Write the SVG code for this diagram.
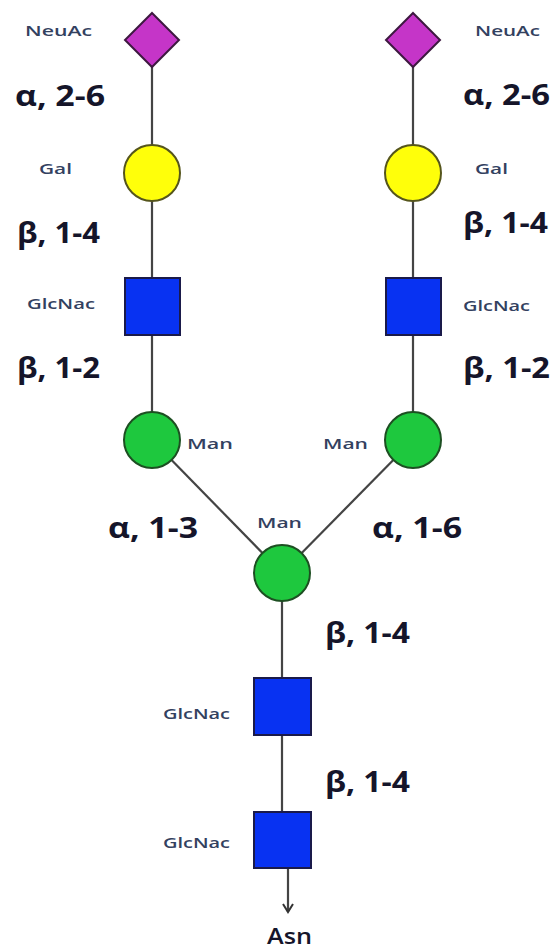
<svg xmlns="http://www.w3.org/2000/svg" width="555" height="951" viewBox="0 0 555 951">
<style>
.bg{fill:#ffffff}
.link{stroke:#444444;stroke-width:2.2;fill:none}
.neu{fill:#c535c8;stroke:#3d1840;stroke-width:2}
.gal{fill:#ffff0a;stroke:#55551c;stroke-width:2}
.glc{fill:#0832f2;stroke:#1a1a4a;stroke-width:2}
.man{fill:#1ec83e;stroke:#1d4f22;stroke-width:2}
.lbl{font-family:"Open Sans","Noto Sans","DejaVu Sans",sans-serif;font-weight:600;font-size:15px;fill:#33415f}
.bond{font-family:"Open Sans","Noto Sans","DejaVu Sans",sans-serif;font-weight:700;font-size:29px;fill:#15152a}
.asn{font-family:"Open Sans","Noto Sans","DejaVu Sans",sans-serif;font-weight:600;font-size:21px;fill:#15152a}
</style>
<defs>
<marker id="arr" viewBox="0 0 12 12" refX="10" refY="6" markerWidth="12" markerHeight="12" markerUnits="userSpaceOnUse" orient="auto">
<path d="M2,1 L10,6 L2,11" fill="none" stroke="#333333" stroke-width="2"/>
</marker>
</defs>
<rect class="bg" x="0" y="0" width="555" height="951"/>
<g id="connectors">
<line class="link" x1="152" y1="40" x2="152" y2="440"/>
<line class="link" x1="413" y1="40" x2="413" y2="440"/>
<line class="link" x1="152" y1="440" x2="282" y2="573"/>
<line class="link" x1="413" y1="440" x2="282" y2="573"/>
<line class="link" x1="282" y1="573" x2="282" y2="840"/>
<line class="link" x1="288" y1="868" x2="288" y2="912" marker-end="url(#arr)"/>
</g>
<g id="neuac-left">
<polygon class="neu" points="152,13 179,40 152,67 125,40"/>
<text class="lbl" x="25" y="36" textLength="67" lengthAdjust="spacingAndGlyphs">NeuAc</text>
</g>
<g id="neuac-right">
<polygon class="neu" points="413,13 440,40 413,67 386,40"/>
<text class="lbl" x="475" y="36" textLength="65" lengthAdjust="spacingAndGlyphs">NeuAc</text>
</g>
<g id="gal-left">
<circle class="gal" cx="152" cy="173" r="28"/>
<text class="lbl" x="39" y="174" textLength="33" lengthAdjust="spacingAndGlyphs">Gal</text>
</g>
<g id="gal-right">
<circle class="gal" cx="413" cy="173" r="28"/>
<text class="lbl" x="475" y="174" textLength="33" lengthAdjust="spacingAndGlyphs">Gal</text>
</g>
<g id="glcnac-left">
<rect class="glc" x="125" y="278" width="55" height="57"/>
<text class="lbl" x="27" y="309" textLength="68" lengthAdjust="spacingAndGlyphs">GlcNac</text>
</g>
<g id="glcnac-right">
<rect class="glc" x="386" y="278" width="55" height="57"/>
<text class="lbl" x="463" y="311" textLength="67" lengthAdjust="spacingAndGlyphs">GlcNac</text>
</g>
<g id="man-left">
<circle class="man" cx="152" cy="440" r="28"/>
<text class="lbl" x="187" y="449" textLength="46" lengthAdjust="spacingAndGlyphs">Man</text>
</g>
<g id="man-right">
<circle class="man" cx="413" cy="440" r="28"/>
<text class="lbl" x="323" y="449" textLength="45" lengthAdjust="spacingAndGlyphs">Man</text>
</g>
<g id="man-core">
<circle class="man" cx="282" cy="573" r="28"/>
<text class="lbl" x="257" y="528" textLength="45" lengthAdjust="spacingAndGlyphs">Man</text>
</g>
<g id="glcnac-core1">
<rect class="glc" x="254" y="678" width="57" height="57"/>
<text class="lbl" x="163" y="719" textLength="67" lengthAdjust="spacingAndGlyphs">GlcNac</text>
</g>
<g id="glcnac-core2">
<rect class="glc" x="254" y="812" width="57" height="56"/>
<text class="lbl" x="163" y="848" textLength="67" lengthAdjust="spacingAndGlyphs">GlcNac</text>
</g>
<g id="asn">
<text class="asn" x="267" y="944" textLength="45" lengthAdjust="spacingAndGlyphs">Asn</text>
</g>
<g id="bond-labels">
<text class="bond" x="15" y="106" textLength="90" lengthAdjust="spacingAndGlyphs">α, 2-6</text>
<text class="bond" x="463" y="105" textLength="87" lengthAdjust="spacingAndGlyphs">α, 2-6</text>
<text class="bond" x="17" y="243" textLength="83" lengthAdjust="spacingAndGlyphs">β, 1-4</text>
<text class="bond" x="463" y="233" textLength="85" lengthAdjust="spacingAndGlyphs">β, 1-4</text>
<text class="bond" x="17" y="378" textLength="83" lengthAdjust="spacingAndGlyphs">β, 1-2</text>
<text class="bond" x="463" y="378" textLength="87" lengthAdjust="spacingAndGlyphs">β, 1-2</text>
<text class="bond" x="108" y="538" textLength="90" lengthAdjust="spacingAndGlyphs">α, 1-3</text>
<text class="bond" x="372" y="538" textLength="90" lengthAdjust="spacingAndGlyphs">α, 1-6</text>
<text class="bond" x="325" y="643" textLength="85" lengthAdjust="spacingAndGlyphs">β, 1-4</text>
<text class="bond" x="325" y="792" textLength="85" lengthAdjust="spacingAndGlyphs">β, 1-4</text>
</g>
</svg>
